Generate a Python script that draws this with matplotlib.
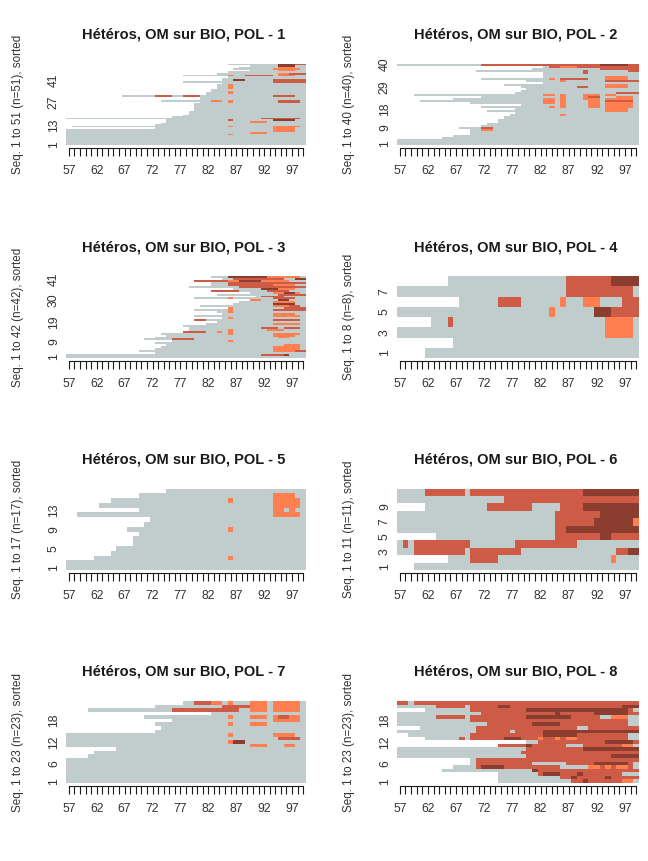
#!/usr/bin/env python3
"""
Sequence index plots, one panel per POL cluster.
"""

import numpy as np
import matplotlib
matplotlib.use("Agg")
import matplotlib.pyplot as plt
from matplotlib.colors import ListedColormap

plt.rcParams['font.family'] = ['Liberation Sans', 'DejaVu Sans']

YEARS = list(range(57, 100))
YEAR_LABELS = [57, 62, 67, 72, 77, 82, 87, 92, 97]
STATE_COLORS = ['#C1CDCD', '#FF7F50', '#CD5B45', '#8B3E2F']
GREY, ORA, RED, DRK = 0, 1, 2, 3

# first observed year of each sequence, bottom row first
starts_1 = [57] * 10 + [73, 58, 73, 74, 75, 75, 57, 76, 78, 79, 79, 80, 80, 80, 80, 80,
                        81, 74, 81, 81, 67, 82, 82, 83, 83, 84, 84, 84, 85, 78, 85, 85,
                        86, 78, 84, 86, 90, 87, 88, 90, 86]
# (sequence, first year, last year, state)
spells_1 = [
    (7, 86, 86, ORA), (8, 90, 92, ORA), (9, 94, 97, ORA), (10, 94, 97, ORA), (11, 94, 97, ORA),
    (12, 94, 98, ORA), (12, 86, 86, ORA), (15, 90, 92, ORA), (16, 94, 97, DRK), (16, 86, 86, RED),
    (17, 92, 98, RED), (27, 95, 98, RED), (28, 95, 98, RED), (27, 86, 86, ORA), (28, 86, 86, ORA),
    (28, 83, 84, ORA), (31, 94, 97, RED), (31, 73, 75, RED), (31, 78, 80, RED),
    (33, 86, 86, ORA), (34, 86, 86, ORA), (36, 86, 86, ORA), (37, 86, 86, ORA), (38, 86, 86, ORA),
    (40, 94, 99, RED), (41, 94, 99, RED), (41, 87, 88, DRK), (44, 86, 86, ORA), (44, 89, 93, RED),
    (44, 95, 97, ORA), (45, 95, 97, ORA), (45, 97, 99, RED), (48, 94, 98, ORA), (47, 95, 97, ORA),
    (49, 95, 97, ORA), (50, 95, 97, DRK), (51, 95, 97, DRK), (51, 98, 99, RED),
]

starts_2 = [57, 57, 57, 65, 67, 70, 70, 70, 68, 72, 73, 75, 75, 76, 77, 78, 73, 78, 72, 79,
            70, 61, 67, 72, 60, 78, 79, 80, 79, 76, 83, 80, 72, 83, 83, 83, 71, 81, 83, 57]
spells_2 = [
    (9, 72, 73, RED), (8, 72, 73, ORA), (15, 86, 86, ORA), (19, 84, 84, ORA), (19, 86, 86, ORA),
    (20, 86, 86, ORA), (21, 83, 84, ORA), (21, 86, 86, ORA), (22, 83, 84, ORA), (22, 86, 86, ORA),
    (23, 83, 84, ORA), (23, 86, 86, ORA), (24, 86, 86, ORA), (25, 83, 84, ORA), (25, 86, 86, ORA),
    (23, 90, 92, ORA), (24, 90, 92, ORA), (25, 90, 92, ORA), (19, 91, 92, ORA), (20, 91, 92, ORA),
    (21, 91, 92, ORA), (22, 91, 92, ORA), (24, 91, 92, RED), (17, 94, 97, ORA), (18, 94, 97, ORA),
    (19, 94, 98, ORA), (20, 94, 98, ORA), (21, 94, 98, ORA), (22, 94, 98, RED), (23, 94, 98, ORA),
    (24, 96, 98, ORA), (25, 94, 95, ORA), (26, 96, 99, RED), (29, 89, 90, RED), (29, 94, 97, ORA),
    (30, 94, 97, ORA), (32, 86, 86, ORA), (32, 94, 99, RED), (33, 84, 84, ORA), (33, 86, 90, RED),
    (33, 94, 97, ORA), (34, 94, 97, ORA), (36, 90, 90, RED), (37, 90, 90, RED), (37, 98, 99, RED),
    (38, 93, 99, RED), (39, 84, 85, RED), (39, 89, 99, RED), (39, 86, 88, ORA), (40, 72, 84, RED),
    (40, 85, 99, RED), (40, 93, 97, DRK),
]

starts_3 = [57, 57, 73, 70, 73, 74, 75, 73, 76, 71, 73, 75, 74, 78, 79, 79, 78, 82, 84, 80,
            85, 80, 85, 84, 80, 86, 81, 87, 88, 90, 80, 91, 84, 90, 83, 87, 79, 83, 83, 80, 85, 83]
spells_3 = [
    (2, 92, 95, RED), (2, 96, 96, DRK), (4, 94, 97, ORA), (4, 98, 99, RED), (5, 94, 98, ORA),
    (6, 94, 98, ORA), (7, 96, 98, ORA), (9, 86, 86, ORA), (10, 71, 72, GREY), (10, 76, 79, RED),
    (11, 95, 96, ORA), (12, 94, 97, ORA), (13, 86, 86, ORA), (13, 94, 98, ORA), (14, 78, 81, RED),
    (14, 84, 84, ORA), (14, 86, 86, ORA), (15, 86, 86, ORA), (15, 93, 95, ORA), (16, 92, 94, RED),
    (16, 96, 98, RED), (18, 94, 98, ORA), (20, 80, 81, RED), (20, 94, 98, RED), (21, 86, 86, ORA),
    (22, 94, 98, ORA), (23, 94, 97, ORA), (24, 86, 86, ORA), (25, 86, 86, ORA), (25, 94, 99, RED),
    (26, 86, 86, ORA), (26, 96, 99, RED), (27, 94, 96, ORA), (27, 97, 98, RED), (28, 94, 97, DRK),
    (29, 94, 97, ORA), (30, 90, 91, ORA), (30, 95, 96, DRK), (31, 86, 86, ORA), (31, 94, 97, RED),
    (32, 92, 95, RED), (33, 95, 99, RED), (34, 94, 98, ORA), (34, 96, 97, DRK), (35, 83, 87, RED),
    (35, 93, 96, RED), (36, 92, 94, DRK), (36, 95, 97, ORA), (37, 88, 90, RED), (37, 91, 99, RED),
    (38, 86, 93, RED), (38, 94, 97, ORA), (39, 86, 92, RED), (39, 93, 99, RED), (40, 80, 85, RED),
    (40, 86, 88, ORA), (40, 88, 91, DRK), (40, 92, 96, ORA), (41, 87, 90, RED), (41, 91, 95, RED),
    (41, 98, 99, DRK), (42, 86, 92, DRK), (42, 93, 98, ORA),
]

starts_4 = [62, 67, 57, 63, 57, 68, 57, 66]
spells_4 = [
    (3, 94, 98, ORA), (4, 66, 66, RED), (4, 94, 98, ORA), (5, 84, 84, ORA), (5, 92, 94, DRK),
    (5, 95, 99, RED), (6, 75, 78, RED), (6, 86, 86, ORA), (6, 90, 92, ORA), (6, 97, 99, RED),
    (7, 87, 98, RED), (8, 87, 94, RED), (8, 95, 99, DRK),
]

starts_5 = [57, 57, 62, 65, 66, 69, 69, 70, 68, 71, 72, 59, 70, 63, 65, 70, 75]
spells_5 = [
    (3, 86, 86, ORA), (9, 86, 86, ORA), (15, 86, 86, ORA), (12, 94, 98, ORA), (13, 94, 95, ORA),
    (13, 97, 97, ORA), (14, 94, 98, ORA), (15, 94, 98, ORA), (16, 94, 97, ORA),
]

starts_6 = [60, 66, 57, 57, 64, 57, 57, 57, 62, 57, 57]
spells_6 = [
    (2, 70, 74, RED), (2, 95, 95, ORA), (3, 60, 68, RED), (3, 70, 78, RED), (3, 96, 97, RED),
    (3, 98, 99, DRK), (4, 58, 58, RED), (4, 60, 69, RED), (4, 78, 88, RED), (5, 85, 92, RED),
    (5, 93, 94, DRK), (5, 95, 99, RED), (6, 85, 86, RED), (6, 87, 99, DRK), (7, 85, 91, RED),
    (7, 92, 98, DRK), (7, 99, 99, ORA), (8, 85, 92, RED), (8, 93, 99, DRK), (9, 73, 80, RED),
    (9, 86, 89, RED), (9, 90, 99, DRK), (10, 76, 99, RED), (11, 62, 68, RED), (11, 70, 89, RED),
    (11, 90, 99, DRK),
]

starts_7 = [57] * 7 + [61, 62, 66, 57, 57, 57, 57, 73, 74, 73, 76, 71, 83, 61, 73, 78]
spells_7 = [
    (11, 90, 92, ORA), (11, 96, 97, ORA), (12, 86, 86, ORA), (12, 87, 88, DRK), (13, 95, 98, RED),
    (14, 86, 86, ORA), (14, 94, 97, ORA), (17, 86, 86, ORA), (17, 90, 92, ORA), (18, 94, 98, ORA),
    (19, 86, 86, ORA), (19, 90, 92, ORA), (19, 94, 98, ORA), (19, 95, 96, RED), (21, 76, 87, RED),
    (21, 90, 92, ORA), (21, 94, 98, ORA), (22, 85, 89, RED), (22, 90, 92, ORA), (22, 94, 98, ORA),
    (23, 80, 82, RED), (23, 83, 84, ORA), (23, 86, 86, ORA), (23, 90, 92, ORA), (23, 94, 98, ORA),
]

starts_8 = [75, 75, 75, 65, 67, 70, 70, 57, 57, 57, 75, 80, 62, 59, 57, 61, 57, 57, 57, 57, 62, 57, 57]
spells_8 = [
    (1, 88, 96, RED), (1, 90, 90, DRK), (1, 97, 98, ORA), (2, 86, 96, RED), (2, 88, 88, DRK),
    (2, 94, 94, DRK), (2, 97, 99, RED), (3, 82, 96, RED), (3, 83, 85, DRK), (3, 89, 89, DRK),
    (4, 81, 99, RED), (4, 81, 81, DRK), (5, 71, 99, RED), (5, 72, 75, DRK), (5, 86, 90, GREY),
    (5, 91, 92, ORA), (5, 94, 94, ORA), (5, 96, 97, ORA), (5, 99, 99, GREY), (6, 71, 99, RED),
    (6, 81, 86, GREY), (6, 92, 97, DRK), (6, 99, 99, GREY), (7, 71, 99, RED), (8, 80, 99, RED),
    (8, 95, 99, DRK), (9, 79, 99, RED), (10, 80, 99, RED), (10, 90, 99, DRK), (11, 75, 99, RED),
    (11, 80, 80, DRK), (11, 87, 89, GREY), (11, 97, 98, ORA), (11, 99, 99, GREY), (12, 82, 99, RED),
    (12, 94, 98, DRK), (13, 68, 68, RED), (13, 70, 75, RED), (13, 76, 78, DRK), (13, 79, 99, RED),
    (13, 82, 82, ORA), (13, 85, 85, ORA), (13, 87, 88, ORA), (13, 98, 99, GREY), (14, 70, 99, RED),
    (14, 83, 88, DRK), (14, 98, 99, GREY), (15, 71, 76, RED), (15, 78, 82, RED), (15, 83, 99, DRK),
    (16, 71, 99, RED), (16, 89, 90, GREY), (17, 73, 99, RED), (17, 71, 72, GREY), (17, 81, 85, DRK),
    (17, 98, 99, GREY), (18, 70, 97, RED), (18, 98, 99, GREY), (19, 64, 68, RED), (19, 70, 92, RED),
    (19, 80, 87, DRK), (19, 93, 94, GREY), (19, 95, 97, ORA), (19, 98, 99, GREY), (20, 72, 99, RED),
    (20, 85, 85, DRK), (20, 92, 97, DRK), (21, 70, 99, RED), (21, 80, 97, DRK), (21, 99, 99, GREY),
    (22, 64, 68, RED), (22, 70, 99, RED), (22, 75, 76, DRK), (22, 97, 99, DRK), (23, 57, 58, RED),
    (23, 60, 99, RED),
]

starts = [starts_1, starts_2, starts_3, starts_4, starts_5, starts_6, starts_7, starts_8]
spells = [spells_1, spells_2, spells_3, spells_4, spells_5, spells_6, spells_7, spells_8]
y_labels = [
    [1, 13, 27, 41], [1, 9, 18, 29, 40], [1, 9, 19, 30, 41], [1, 3, 5, 7],
    [1, 5, 9, 13], [1, 3, 5, 7, 9], [1, 6, 12, 18], [1, 6, 12, 18],
]

W, H = 648, 861
LEFT_X = (66, 306)
RIGHT_X = (397, 639)
ROW_Y = [(63.5, 145), (276, 358), (488.5, 570), (701, 783)]
TEXT_COLOR = '#1a1a1a'


def build_matrix(first_years, seq_spells):
    """One row per sequence, one column per year, NaN before the sequence starts."""
    mat = np.full((len(first_years), len(YEARS)), np.nan)
    for i, first in enumerate(first_years):
        mat[i, first - YEARS[0]:] = GREY
    for seq, a, b, state in seq_spells:
        mat[seq - 1, a - YEARS[0]:b - YEARS[0] + 1] = state
    return mat


def draw_panel(fig, idx, cmap):
    x0, x1 = RIGHT_X if idx % 2 else LEFT_X
    y0, y1 = ROW_Y[idx // 2]
    ax = fig.add_axes([x0 / W, 1 - y1 / H, (x1 - x0) / W, (y1 - y0) / H])

    mat = build_matrix(starts[idx], spells[idx])
    n = len(starts[idx])
    x_edges = np.arange(YEARS[0] - 0.5, YEARS[-1] + 1)
    y_edges = np.arange(0.5, n + 1)
    ax.pcolormesh(x_edges, y_edges, mat, cmap=cmap, vmin=0, vmax=3, linewidth=0)

    ax.set_xlim(x_edges[0], x_edges[-1])
    ax.set_ylim(0.5, n + 0.5)
    for s in ('top', 'right', 'left'):
        ax.spines[s].set_visible(False)
    ax.spines['bottom'].set_position(('outward', 2.0))
    ax.spines['bottom'].set_bounds(YEARS[0], YEARS[-1])
    ax.spines['bottom'].set_linewidth(0.8)
    ax.spines['bottom'].set_color(TEXT_COLOR)

    ax.set_xticks(YEARS)
    ax.set_xticklabels([str(y) if y in YEAR_LABELS else '' for y in YEARS])
    ax.tick_params(axis='x', length=6, width=0.8, color=TEXT_COLOR, pad=6.5,
                   labelsize=8.8, labelcolor='#333333')

    ax.set_yticks(y_labels[idx])
    ax.set_yticklabels([str(v) for v in y_labels[idx]], rotation=90, va='center')
    ax.tick_params(axis='y', length=0, pad=4.4, labelsize=8.8, labelcolor='#333333')

    ax.set_ylabel(f"Seq. 1 to {n} (n={n}), sorted", fontsize=8.4, color='#333333')
    label_px = 355.5 if idx % 2 else 24
    ax.yaxis.set_label_coords((label_px - x0) / (x1 - x0), 0.5)
    ax.set_title(f"Hétéros, OM sur BIO, POL - {idx + 1}", fontsize=10.5, x=0.492,
                 fontweight='bold', color=TEXT_COLOR, pad=18)


def main():
    cmap = ListedColormap(STATE_COLORS)
    cmap.set_bad('white')
    fig = plt.figure(figsize=(W / 100, H / 100), dpi=100)
    for idx in range(8):
        draw_panel(fig, idx, cmap)
    fig.savefig('out.png', dpi=100, facecolor='white')


if __name__ == "__main__":
    main()
